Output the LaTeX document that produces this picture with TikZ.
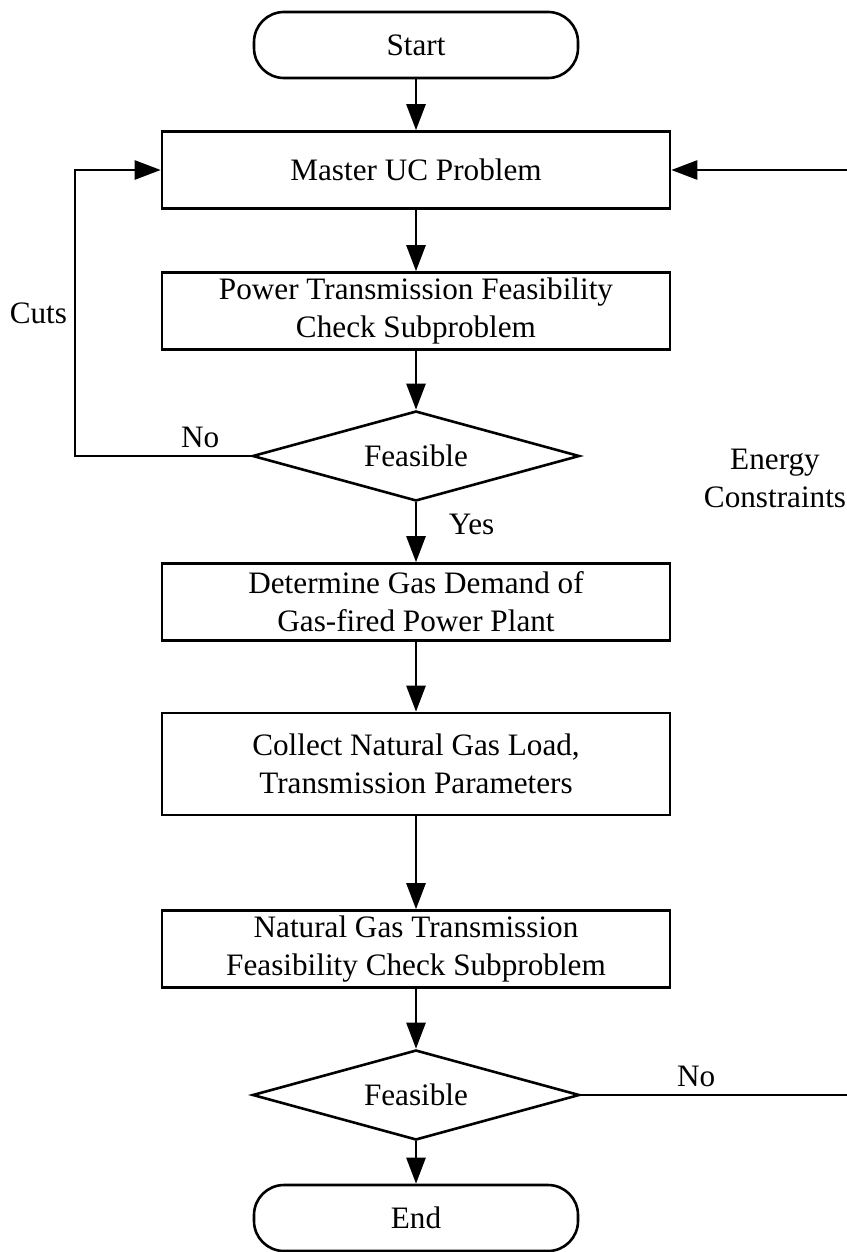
\documentclass[tikz,border=0pt]{standalone}
\usepackage{fontspec}
\setmainfont{Liberation Serif}
\usetikzlibrary{shapes.geometric,arrows.meta}
\tikzset{%
  procbox/.style  = {shape=rectangle, draw, align=center,%
                     inner sep=0pt, minimum width=254pt, minimum height=38.5pt},%
  termbox/.style  = {procbox, rounded corners=15pt,%
                     minimum width=162pt, minimum height=33pt},%
  decision/.style = {shape=diamond, draw, aspect=3.6, inner sep=0pt,%
                     minimum width=163.5pt, minimum height=45pt},%
  flow/.style     = {-{Triangle[length=13pt,width=9.5pt]}}%
}

\begin{document}
\begin{tikzpicture}[x=0.5pt,y=-0.5pt,line width=1.3pt,
	every node/.style = {font=\fontsize{15.6}{19}\selectfont}]
	\useasboundingbox (0,0) rectangle (846,1252);
	\node [termbox] (start) at (416,45) {Start};
	\node [procbox] (master) at (416,170) {Master UC Problem};
	\node [procbox] (power) at (416,311) {Power Transmission Feasibility\\Check Subproblem};
	\node [decision] (feas1) at (416,456) {Feasible};
	\node [procbox] (demand) at (416,602) {Determine Gas Demand of\\Gas-fired Power Plant};
	\node [procbox, minimum height=51pt] (collect) at (416,764) {Collect Natural Gas Load,\\Transmission Parameters};
	\node [procbox] (gascheck) at (416,949) {Natural Gas Transmission\\Feasibility Check Subproblem};
	\node [decision] (feas2) at (416,1095) {Feasible};
	\node [termbox] (end) at (416,1218) {End};
	\node [align=center] (energy) at (775,478) {Energy\\Constraints};
	\coordinate (cutsx) at (75,300);
	\coordinate (energyx) at (849,600);
	\draw [flow] (start.south) -- (master.north);
	\draw [flow] (master.south) -- (power.north);
	\draw [flow] (power.south) -- (feas1.north);
	\draw [flow] (feas1.south) -- node [pos=0.37, right=12.5pt] {Yes} (demand.north);
	\draw [flow] (demand.south) -- (collect.north);
	\draw [flow] (collect.south) -- (gascheck.north);
	\draw [flow] (gascheck.south) -- (feas2.north);
	\draw [flow] (feas2.south) -- (end.north);
	\draw [flow] (feas1.west) -- node [pos=0.29, above] {No} (feas1.west -| cutsx)
		|- node [pos=0.25, left] {Cuts} (master.west);
	\draw [flow] (feas2.east) -- node [pos=0.43, above] {No} (feas2.east -| energyx)
		|- (master.east);
\end{tikzpicture}
\end{document}
